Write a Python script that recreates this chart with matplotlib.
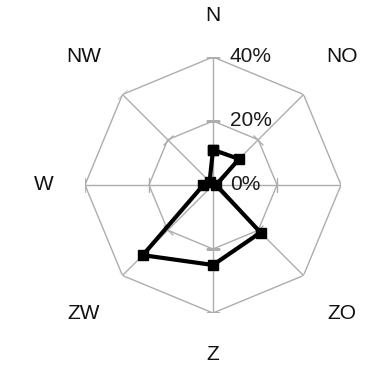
import numpy as np
import matplotlib

matplotlib.use("Agg")

import matplotlib.pyplot as plt

plt.rcParams["font.family"] = ["Liberation Sans", "DejaVu Sans"]

# wind directions (Dutch compass labels), clockwise from north
directions = ["N", "NO", "O", "ZO", "Z", "ZW", "W", "NW"]
# share of observations per direction, in percent
shares = [11, 11.5, 1, 21, 25, 31, 3, 1.5]
ring_levels = [0, 20, 40]
ring_labels = ["0%", "20%", "40%"]

grid_color = "#adadad"

fig = plt.figure(figsize=(3.67, 3.71), dpi=100)
ax = fig.add_axes([85 / 367, 58 / 371, 256 / 367, 256 / 371], projection="polar")
ax.set_theta_zero_location("N")
ax.set_theta_direction(-1)
ax.set_ylim(0, ring_levels[-1])
ax.grid(False)
ax.spines["polar"].set_visible(False)
ax.set_xticks([])
ax.set_yticks([])
ax.patch.set_visible(False)

n = len(directions)
angles = np.arange(n) * 2 * np.pi / n
closed = np.append(angles, angles[0])

# octagonal rings
for level in ring_levels[1:]:
    ax.plot(closed, [level] * (n + 1), color=grid_color, lw=1.0, zorder=1)

# spokes with small cross ticks at each ring
for k, theta in enumerate(angles):
    ax.plot([theta, theta], [0, ring_levels[-1]], color=grid_color, lw=1.0, zorder=1)
    bearing = np.degrees(theta)
    ax.plot([theta] * (len(ring_levels) - 1), ring_levels[1:], linestyle="none",
            marker=(2, 0, 90 - bearing), markersize=10, markeredgewidth=1.0,
            color=grid_color, zorder=1)

# ring value labels along the north spoke
for level, text in zip(ring_levels, ring_labels):
    ax.annotate(text, xy=(0, level), xytext=(12, 0), textcoords="offset points",
                ha="left", va="center", fontsize=15, color="#1a1a1a", zorder=2)

# direction labels
for k, (theta, name) in enumerate(zip(angles, directions)):
    r = 57 if k % 2 else 53
    ax.text(theta, r, name, ha="center", va="center", fontsize=15,
            color="#111111", clip_on=False)

values = np.append(shares, shares[0])
ax.plot(closed, values, color="black", lw=3.0, marker="s", markersize=7,
        zorder=3, clip_on=False)

fig.savefig("out.png", dpi=100)
